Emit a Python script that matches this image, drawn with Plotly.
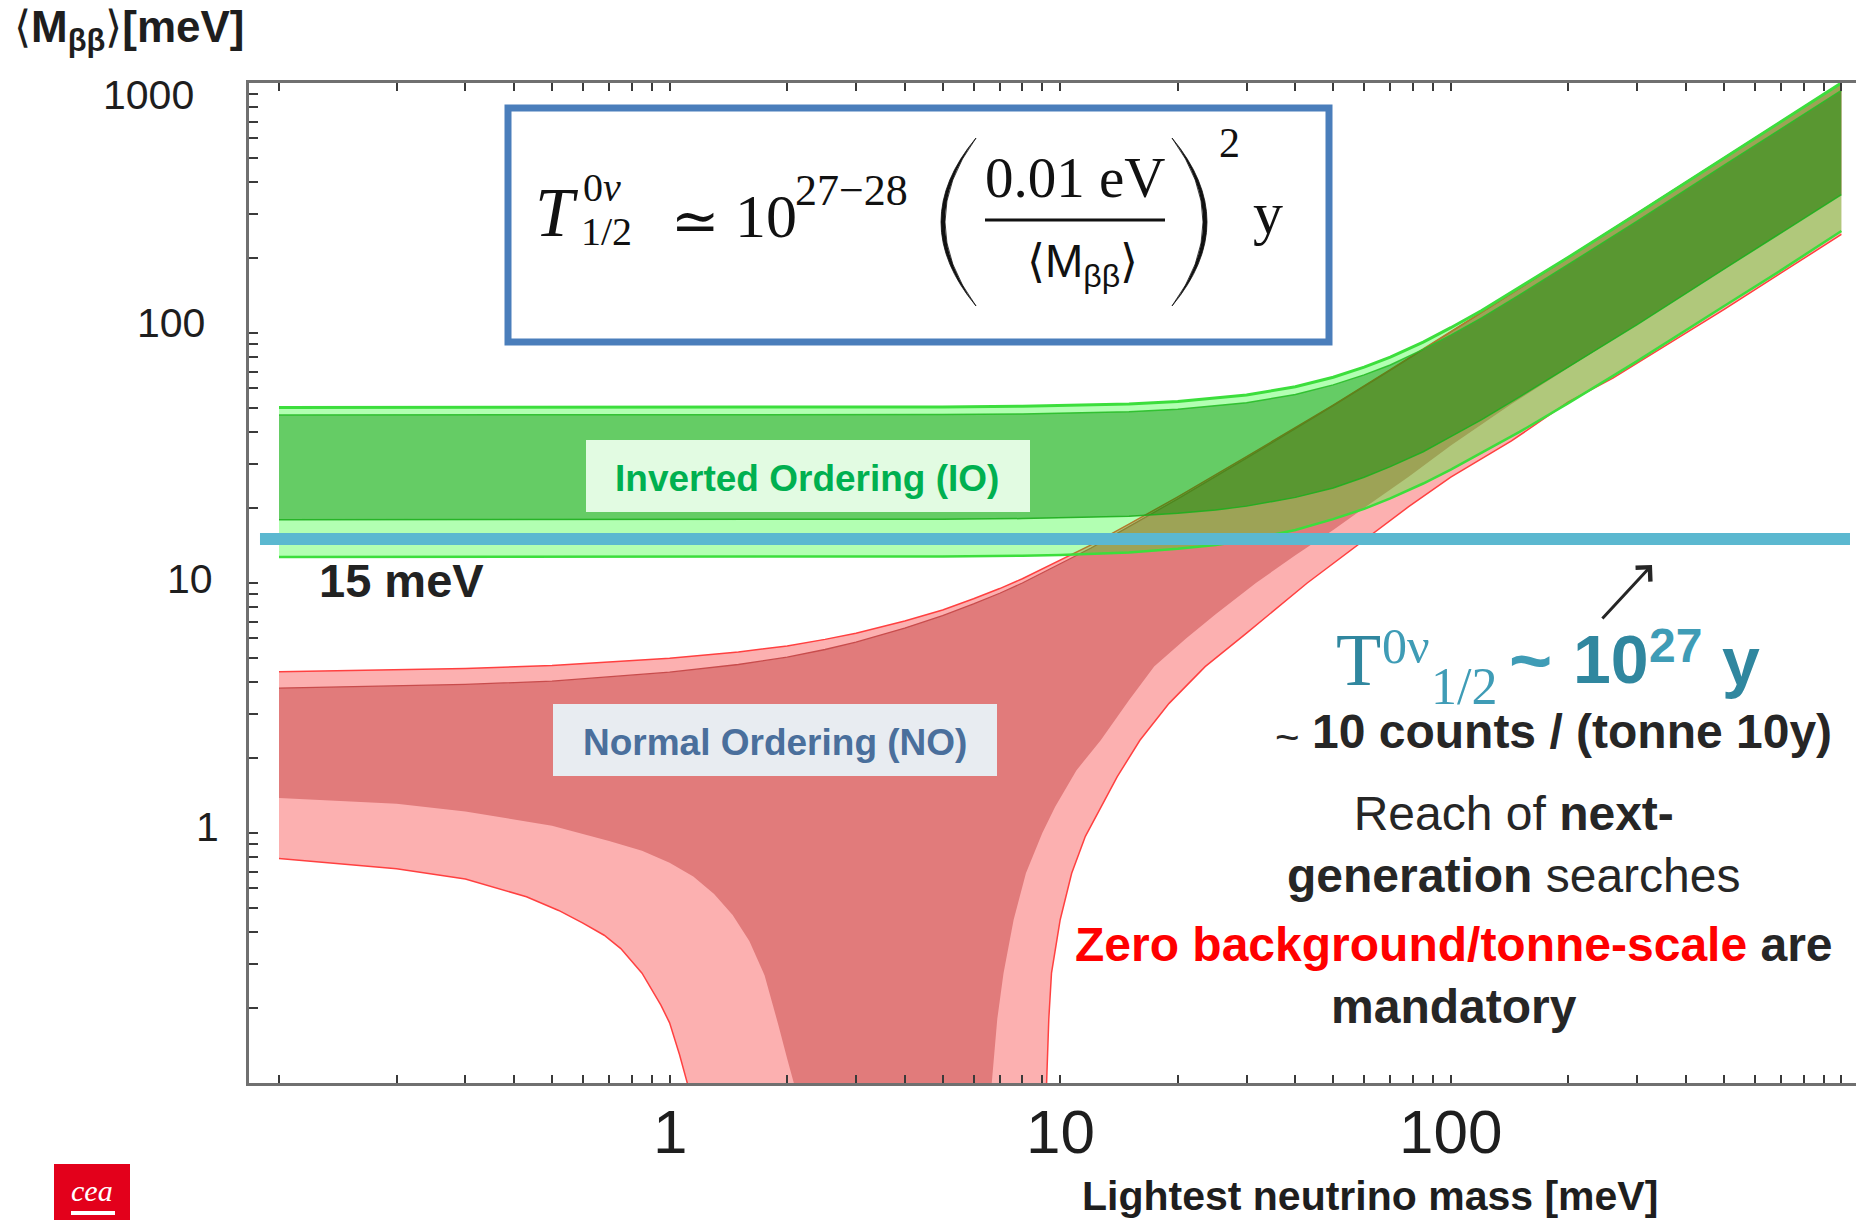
import math
import plotly.graph_objects as go

# ---------------- data (all masses in meV) ----------------
# Inverted ordering band: lightest mass grid and band edges
IO_MASS = [0.1, 1, 3, 5, 8, 10, 15, 20, 25, 30, 40, 50, 60, 70, 85, 100, 120, 150, 200, 300, 500, 700, 1000]
IO_3S_UPPER = [50.4, 50.4, 50.5, 50.6, 50.9, 51.2, 52.0, 53.2, 54.8, 56.5, 61.0, 66.5, 73.0, 80.0, 92.0,
               105, 123, 152, 201, 300, 500, 701, 1001]
IO_1S_UPPER = [47.0, 47.0, 47.1, 47.2, 47.4, 47.7, 48.4, 49.5, 51.0, 52.6, 56.8, 62.0, 68.0, 74.5, 86.0,
               98.0, 115, 142, 188, 280, 468, 655, 935]
IO_1S_LOWER = [17.9, 17.9, 17.95, 18.0, 18.1, 18.2, 18.5, 19.0, 19.6, 20.3, 22.0, 24.0, 26.5, 29.2, 33.5,
               38.5, 45.0, 55.5, 73.0, 108, 180, 251, 358]
IO_3S_LOWER = [12.7, 12.7, 12.72, 12.77, 12.86, 12.95, 13.25, 13.7, 14.2, 14.8, 16.3, 18.0, 19.8, 21.8, 25.0,
               28.4, 33.2, 40.2, 52.4, 77.2, 128, 178, 256]

# Normal ordering band: upper edges
NO_MASS_UPPER = [0.1, 0.3, 0.5, 1, 1.5, 2, 2.5, 3, 4, 5, 6, 7, 8, 10, 12, 15, 20, 30, 50, 70, 100, 150, 200, 500, 1000]
NO_3S_UPPER = [4.42, 4.55, 4.68, 5.0, 5.3, 5.6, 5.95, 6.3, 7.05, 7.8, 8.65, 9.5, 10.4, 12.3, 14.2, 17.2, 22.1,
               32.0, 51.5, 71.3, 101, 151, 201, 500, 1000]
NO_1S_UPPER = [3.8, 3.93, 4.05, 4.4, 4.72, 5.05, 5.42, 5.8, 6.6, 7.4, 8.25, 9.1, 10.0, 11.9, 13.8, 16.8, 21.7,
               31.6, 51.2, 71.0, 100.7, 150.6, 200.5, 500, 1000]

# Normal ordering band: lower edges (0.01 marks the cancellation funnel, below the axis)
NO_1S_LOWER_MASS = [0.1, 0.2, 0.3, 0.5, 0.7, 0.85, 1.0, 1.15, 1.3, 1.45, 1.6, 1.75, 1.9, 2.0, 2.08, 2.1,
                    6.66, 6.68, 6.9, 7.16, 7.6, 8.17, 9.0, 9.7, 11, 12.7, 15, 17.4, 21, 25, 31.7, 40, 50, 62,
                    78, 100, 143, 200, 260, 500, 1000]
NO_1S_LOWER = [1.38, 1.31, 1.22, 1.07, 0.93, 0.85, 0.76, 0.67, 0.57, 0.47, 0.37, 0.27, 0.17, 0.125, 0.10, 0.01,
               0.01, 0.10, 0.18, 0.275, 0.45, 0.69, 1.0, 1.27, 1.78, 2.35, 3.4, 4.63, 6.0, 7.5, 10.0, 12.9, 16.3,
               20.7, 26.6, 35.5, 52, 73, 94, 180, 358]
NO_3S_LOWER_MASS = [0.1, 0.2, 0.3, 0.43, 0.52, 0.6, 0.68, 0.75, 0.85, 0.95, 1.0, 1.06, 1.11, 1.13,
                    9.2, 9.23, 9.35, 9.5, 10.0, 10.7, 11.6, 12.7, 14, 16, 19, 23.5, 30, 42.9, 60, 78,
                    100, 143, 200, 260, 500, 1000]
NO_3S_LOWER = [0.79, 0.72, 0.655, 0.556, 0.49, 0.436, 0.39, 0.345, 0.275, 0.205, 0.174, 0.13, 0.10, 0.01,
               0.01, 0.10, 0.18, 0.275, 0.45, 0.69, 0.97, 1.27, 1.68, 2.35, 3.3, 4.63, 6.3, 10.0, 14.8, 20.2,
               26.5, 37, 53, 66, 124, 248]

THRESHOLD_MEV = 15

X_TICK_VALUES = [1, 10, 100]
X_TICK_TEXT = ["1", "10", "100"]
Y_TICK_VALUES = [1000, 100, 10, 1]
Y_TICK_TEXT = ["1000", "100", "10", "1"]

# ---------------- geometry / styling ----------------
W, H = 1856, 1220
PL, PT, PR, PB = 249, 83, 1856, 1083
SANS = "Liberation Sans, Arial, sans-serif"
SERIF = "Liberation Serif, Times New Roman, DejaVu Serif, serif"
TEAL = "#30879f"
TEAL_LIGHT = "#3f9cb6"
DARK = "#262626"
INK = "#111111"


def fx(p):
    return (p - PL) / (PR - PL)


def fy(p):
    return (PB - p) / (PB - PT)


def band(x_up, y_up, x_lo, y_lo, color):
    return go.Scatter(x=list(x_up) + list(x_lo)[::-1], y=list(y_up) + list(y_lo)[::-1],
                      fill="toself", fillcolor=color, mode="lines", line=dict(width=0),
                      hoverinfo="skip", showlegend=False)


def edge(x, y, color, width):
    return go.Scatter(x=x, y=y, mode="lines", line=dict(color=color, width=width),
                      hoverinfo="skip", showlegend=False)


fig = go.Figure()

# normal ordering (opaque, underneath)
fig.add_trace(band(NO_MASS_UPPER, NO_3S_UPPER, NO_3S_LOWER_MASS, NO_3S_LOWER, "#fcb0b0"))
fig.add_trace(band(NO_MASS_UPPER, NO_1S_UPPER, NO_1S_LOWER_MASS, NO_1S_LOWER, "#e17b7b"))
fig.add_trace(edge(NO_MASS_UPPER, NO_1S_UPPER, "#c84c4c", 1.3))
fig.add_trace(edge(NO_MASS_UPPER, NO_3S_UPPER, "#ff4040", 1.5))
fig.add_trace(edge(NO_3S_LOWER_MASS, NO_3S_LOWER, "#ff4040", 1.5))

# inverted ordering (translucent, on top)
fig.add_trace(band(IO_MASS, IO_3S_UPPER, IO_MASS, IO_3S_LOWER, "rgba(0,255,0,0.30)"))
fig.add_trace(band(IO_MASS, IO_1S_UPPER, IO_MASS, IO_1S_LOWER, "rgba(0,136,0,0.43)"))
fig.add_trace(edge(IO_MASS, IO_1S_LOWER, "rgba(30,175,30,0.9)", 1.5))
fig.add_trace(edge(IO_MASS, IO_1S_UPPER, "rgba(40,190,40,0.9)", 1.5))
fig.add_trace(edge(IO_MASS, IO_3S_UPPER, "rgb(60,222,60)", 3))
fig.add_trace(edge(IO_MASS, IO_3S_LOWER, "rgb(60,222,60)", 2.5))

# sensitivity line at 15 meV
fig.add_trace(go.Scatter(x=[0.0894, 1052], y=[THRESHOLD_MEV, THRESHOLD_MEV], mode="lines",
                         line=dict(color="#5bb8d0", width=12), hoverinfo="skip", showlegend=False))

minor_ticks = [m * 10 ** e for e in range(-1, 4) for m in range(1, 10)]
axis_common = dict(type="log", tickmode="array", tickvals=minor_ticks, ticks="inside",
                   tickcolor="#3a3a3a", tickwidth=1.5, showticklabels=False, showline=True,
                   linecolor="#707070", linewidth=3, showgrid=False, zeroline=False)
fig.update_xaxes(range=[-1.0768, 3.0374], ticklen=8, mirror="ticks", **axis_common)
fig.update_yaxes(range=[-1, 3], ticklen=9, mirror=False, **axis_common)

ann = []


def label(text, x, y, size, color=DARK, family=SANS, xanchor="center", yanchor="middle", **kw):
    ann.append(dict(text=text, x=fx(x), y=fy(y), xref="paper", yref="paper", showarrow=False,
                    font=dict(size=size, color=color, family=family),
                    xanchor=xanchor, yanchor=yanchor, **kw))


# axis titles
label("⟨<b>M</b><sub><b>ββ</b></sub>⟩<b>[meV]</b>", 12, 30, 44, color="#1e1e1e", xanchor="left")
label("<b>Lightest neutrino mass [meV]</b>", 1370, 1196, 41, color="#1e1e1e")

# tick labels
Y_LABEL_RIGHT = [196, 207, 215, 221]
Y_LABEL_SHIFT = [-12, 10, 4, 6]
for v, t, xr, sh in zip(Y_TICK_VALUES, Y_TICK_TEXT, Y_LABEL_RIGHT, Y_LABEL_SHIFT):
    ann.append(dict(text=t, x=fx(xr), y=math.log10(v), xref="paper", yref="y", showarrow=False,
                    xanchor="right", yanchor="middle", yshift=sh,
                    font=dict(size=41, color="#1e1e1e", family=SANS)))
for v, t in zip(X_TICK_VALUES, X_TICK_TEXT):
    ann.append(dict(text=t, x=math.log10(v), y=fy(1131), xref="x", yref="paper", showarrow=False,
                    xanchor="center", yanchor="middle",
                    font=dict(size=62, color="#1e1e1e", family=SANS)))

# band labels
label("<b>Inverted Ordering (IO)</b>", 807, 478, 37, color="#00b050")
label("<b>Normal Ordering (NO)</b>", 775, 742, 37, color="#4a6f9c")
label("<b>15 meV</b>", 401, 580, 47, color="#222222")

# half-life formula in the framed box
label("<i>T</i>", 533, 212, 70, color=INK, family=SERIF, xanchor="left")
label("0<i>ν</i>", 581, 187, 40, color=INK, family=SERIF, xanchor="left")
label("1/2", 579, 231, 40, color=INK, family=SERIF, xanchor="left")
label("≃", 695, 221, 58, color=INK, family=SERIF)
label("10", 733, 216, 62, color=INK, family=SERIF, xanchor="left")
label("27−28", 793, 190, 44, color=INK, family=SERIF, xanchor="left")
label("0.01 eV", 1075, 178, 57, color=INK, family=SERIF)
label("⟨M<sub>ββ</sub>⟩", 1082, 264, 46, color=INK, family=SANS)
label("2", 1229, 143, 42, color=INK, family=SERIF)
label("y", 1268, 213, 60, color=INK, family=SERIF)

# reach annotation on the right
label("T", 1334, 660, 74, color=TEAL, family=SERIF, xanchor="left")
label("0ν", 1380, 646, 50, color=TEAL_LIGHT, family=SERIF, xanchor="left")
label("1/2", 1429, 686, 52, color=TEAL_LIGHT, family=SERIF, xanchor="left")
label("<b>~</b>", 1530, 660, 74, color=TEAL_LIGHT)
label("<b>10</b>", 1571, 659, 68, color=TEAL, xanchor="left")
label("<b>27</b>", 1647, 645, 48, color=TEAL_LIGHT, xanchor="left")
label("<b>y</b>", 1720, 661, 68, color=TEAL, xanchor="left")
label("~", 1287, 737, 42)
label("<b>10 counts / (tonne 10y)</b>", 1310, 731, 48, xanchor="left")
label("Reach of <b>next-</b><br><b>generation</b> searches", 1513, 844, 48)
label("<b><span style='color:#ff0000'>Zero background/tonne-scale</span> are<br>mandatory</b>",
      1454, 975, 48)

ann.append(dict(x=fx(1652), y=fy(565), xref="paper", yref="paper", ax=-51, ay=55, text="",
                showarrow=True, arrowhead=4, arrowsize=1.3, arrowwidth=3, arrowcolor=DARK, standoff=0))

# logo
label("<i>cea</i>", 92, 1190, 30, color="white", family=SERIF)

fig.update_layout(annotations=ann)

# ---------------- shapes ----------------
shapes = []


def rect(x0, y0, x1, y1, fill=None, line_color=None, line_width=0):
    shapes.append(dict(type="rect", xref="paper", yref="paper", x0=fx(x0), x1=fx(x1), y0=fy(y1), y1=fy(y0),
                       fillcolor=fill or "rgba(0,0,0,0)",
                       line=dict(color=line_color or "rgba(0,0,0,0)", width=line_width), layer="above"))


def paren(x_end, x_out, x_in, y0, y1):
    ym = (y0 + y1) / 2
    p = (f"M {fx(x_end)},{fy(y0)} Q {fx(x_out)},{fy(ym)} {fx(x_end)},{fy(y1)} "
         f"Q {fx(x_in)},{fy(ym)} {fx(x_end)},{fy(y0)} Z")
    shapes.append(dict(type="path", xref="paper", yref="paper", path=p, fillcolor=INK,
                       line=dict(color=INK, width=0.8), layer="above"))


rect(586, 440, 1030, 512, fill="#e2fbe2")
rect(553, 704, 997, 776, fill="#e8ecf1")
rect(508, 108, 1329, 342, line_color="#4a7ebb", line_width=7)
paren(976, 906, 914, 138, 306)
paren(1172, 1242, 1234, 138, 306)
shapes.append(dict(type="line", xref="paper", yref="paper", x0=fx(985), x1=fx(1165), y0=fy(220), y1=fy(220),
                   line=dict(color=INK, width=3), layer="above"))
rect(54, 1164, 130, 1225, fill="#e3001b")
rect(71, 1211, 115, 1215, fill="white")

fig.update_layout(
    shapes=shapes,
    width=W, height=H, autosize=False,
    margin=dict(l=PL, r=W - PR, t=PT, b=H - PB, pad=0),
    paper_bgcolor="white", plot_bgcolor="white", showlegend=False,
)

fig.write_html("out.html")
